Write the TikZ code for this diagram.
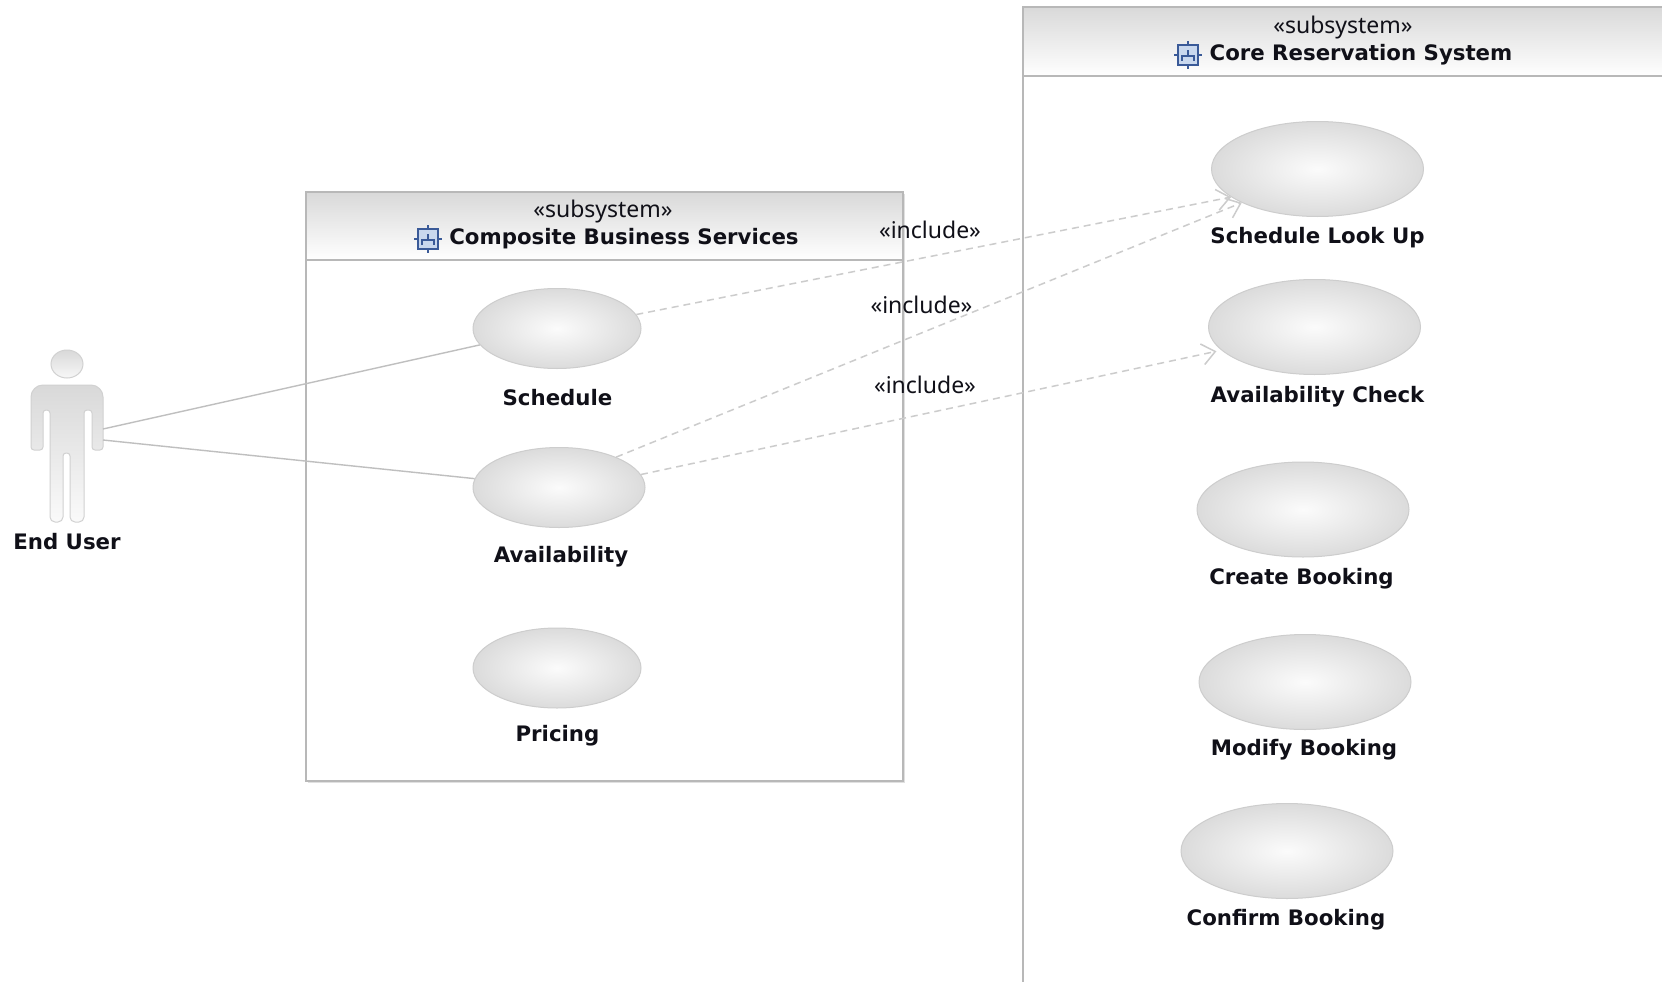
\documentclass[tikz,border=0pt]{standalone}
\usepackage{fontspec}
\setmainfont{DejaVu Sans}
\newfontfamily\labelfont{DejaVu Sans Bold}
\newfontfamily\stereofont{Noto Sans}
\usetikzlibrary{arrows.meta,shapes.geometric}
\definecolor{edgegray}{HTML}{CDCDCD}
\definecolor{boxgray}{HTML}{B8B8B8}
\definecolor{iconblue}{HTML}{3A5A98}
\definecolor{iconfill}{HTML}{C9D8EE}
\definecolor{inktext}{HTML}{101018}
\tikzset{
  usecase/.style={ellipse,draw=edgegray,line width=1pt,inner color=white!97!gray,outer color=black!14,inner sep=0pt,minimum width=#1},
  small case/.style={usecase=168pt,minimum height=80pt},
  big case/.style={usecase=212pt,minimum height=95pt},
  name label/.style={font=\labelfont\fontsize{21.3}{24}\selectfont,text=inktext,inner sep=0pt},
  stereo/.style={font=\stereofont\fontsize{23}{26}\selectfont,text=inktext,inner sep=0pt},
  assoc/.style={draw=black!25,line width=1.4pt},
  incl/.style={draw=black!20,line width=1.5pt,dash pattern=on 7pt off 5pt,-{Straight Barb[length=13pt,width=21pt,line width=1.5pt]}},
  boxline/.style={draw=boxgray,line width=1.4pt},
  header/.style={top color=black!15,bottom color=white,draw=none}
}
\newcommand{\subicon}[2]{%
  \draw[iconblue,line width=1.2pt,fill=iconfill] (#1-10,#2-10) rectangle (#1+10,#2+10);
  \draw[iconblue,line width=1.2pt] (#1-14,#2) -- (#1-10,#2) (#1+10,#2) -- (#1+14,#2) (#1,#2-14) -- (#1,#2-10) (#1,#2+10) -- (#1,#2+14);
  \draw[iconblue,line width=1.4pt] (#1-6,#2+6) -- (#1-6,#2+1) -- (#1+6,#2+1) -- (#1+6,#2+6) (#1,#2+1) -- (#1,#2-5);
}
\begin{document}
\begin{tikzpicture}[x=1pt,y=-1pt]
\useasboundingbox (0,0) rectangle (1662,982);
\clip (0,0) rectangle (1662,982);
\fill[white] (0,0) rectangle (1662,982);

% subsystems
\fill[black!12] (308,194) rectangle (904.5,782.5);
\fill[white] (306,192) rectangle (903,781);
\shade[header] (306,192) rectangle (903,260);
\draw[boxline] (306,192) rectangle (903,781);
\draw[boxline] (306,260) -- (903,260);
\shade[header] (1023,7) rectangle (1670,76);
\draw[boxline] (1023,990) -- (1023,7) -- (1670,7);
\draw[boxline] (1023,76) -- (1670,76);
\subicon{428}{239}
\subicon{1188}{55}

\node[stereo] (st1) at (603,212) {«subsystem»};
\node[name label] (t1) at (624,239) {Composite Business Services};
\node[stereo] (st2) at (1343,28) {«subsystem»};
\node[name label] (t2) at (1361,55) {Core Reservation System};

% actor
\shade[top color=black!15,bottom color=black!3,draw=black!18,line width=1pt] (67,364) ellipse (16pt and 14pt);
\shade[top color=black!15,bottom color=black!2,draw=black!18,line width=1pt]
  (31,420) [rounded corners=12pt] -- (31,385) -- (103,385) [rounded corners=3pt]
  -- (103,450) -- (92,450) -- (92,410) -- (84,410) [rounded corners=5pt]
  -- (84,522) -- (70,522) [rounded corners=3pt] -- (70,453) -- (63,453) [rounded corners=5pt]
  -- (63,522) -- (50,522) [rounded corners=3pt] -- (50,410) -- (43,410) -- (43,450) -- (31,450) -- cycle;
\coordinate (actorA) at (103,429);
\coordinate (actorB) at (103,440);
\node[name label] (actorlabel) at (67,541.5) {End User};

% use cases
\node[small case] (sch) at (557,328.5) {};
\node[small case,minimum width=172pt] (ava) at (559,487.5) {};
\node[small case] (pri) at (557,668) {};
\node[big case] (slu) at (1317.5,169) {};
\node[big case] (chk) at (1314.5,327) {};
\node[big case] (cre) at (1303,509.5) {};
\node[big case] (mod) at (1305,682) {};
\node[big case] (con) at (1287,851) {};

\node[name label] at (557.5,397.5) {Schedule};
\node[name label] at (561,556.5) {Availability};
\node[name label] at (557.5,736) {Pricing};
\node[name label] at (1317.5,237.5) {Schedule Look Up};
\node[name label] at (1317.5,396.5) {Availability Check};
\node[name label] at (1301.5,578.5) {Create Booking};
\node[name label] at (1304,749.5) {Modify Booking};
\node[name label] at (1286,920) {Confirm Booking};

% connectors
\draw[assoc] (actorA) -- (sch.192);
\draw[assoc] (actorB) -- (ava.174);
\draw[incl] (sch.10) -- (slu.198);
\draw[incl] (ava.28) -- (slu.204);
\draw[incl,shorten >=5pt] (ava.9) -- (chk.194);

\node[stereo] (inc1) at (930,230) {«include»};
\node[stereo] (inc2) at (921.5,305) {«include»};
\node[stereo] (inc3) at (925,385) {«include»};
\end{tikzpicture}
\end{document}
